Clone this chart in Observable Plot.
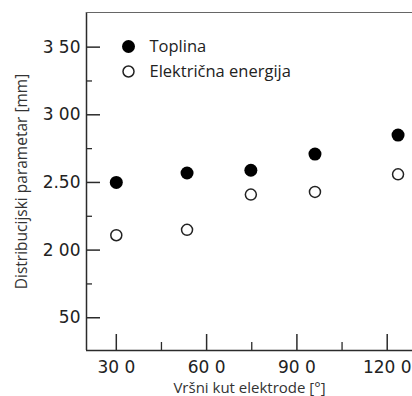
<!DOCTYPE html>
<html>
<head>
<meta charset="utf-8">
<script src="https://cdn.jsdelivr.net/npm/d3@7"></script>
<script src="https://cdn.jsdelivr.net/npm/@observablehq/plot@0.6"></script>
<style>
  html, body { margin: 0; padding: 0; background: #fff; }
  #chart svg { display: block; }
</style>
</head>
<body>
<div id="chart"></div>
<script>
// Data
const angles = [30, 53.5, 74.7, 96, 123.6];
const toplina = [2.50, 2.57, 2.59, 2.71, 2.85];
const elektricna = [2.11, 2.15, 2.41, 2.43, 2.56];
const seriesNames = ["Toplina", "Električna energija"];

// Axes
const xDomain = [20.1, 128.4];
const yDomain = [1.258, 3.756];
const xMajorTicks = [30, 60, 90, 120];
const xMajorLabels = ["30 0", "60 0", "90 0", "120 0"];
const xMinorTicks = [45, 75, 105];
const yMajorTicks = [1.5, 2.0, 2.5, 3.0, 3.5];
const yMajorLabels = ["50", "2 00", "2.50", "3 00", "3 50"];
const yMinorTicks = [1.75, 2.25, 2.75, 3.25];

const toplinaRows = angles.map((a, i) => ({angle: a, value: toplina[i]}));
const elektricnaRows = angles.map((a, i) => ({angle: a, value: elektricna[i]}));

const W = 412, H = 396;
const mL = 86, mR = 0, mT = 12, mB = 46;
const plotW = W - mL - mR, plotH = H - mT - mB;
const ink = "#2b2b2b";
const tickFont = "'DejaVu Sans', sans-serif";
const textFont = "'Open Sans', sans-serif";

function legendEntry(i, dy) {
  const filled = i === 0;
  return [
    Plot.dot([seriesNames[i]], {
      frameAnchor: "top-left", dx: 42, dy,
      r: filled ? 6.5 : 5.5,
      fill: filled ? "#000" : "#fff",
      stroke: filled ? "none" : "#222",
      strokeWidth: 1.5
    }),
    Plot.text([seriesNames[i]], {
      frameAnchor: "top-left", dx: 63, dy,
      text: d => d, textAnchor: "start", lineAnchor: "middle",
      fontSize: 16.5, fontFamily: textFont, fill: "#222"
    })
  ];
}

const chart = Plot.plot({
  width: W,
  height: H,
  marginLeft: mL,
  marginRight: mR,
  marginTop: mT,
  marginBottom: mB,
  style: {fontFamily: textFont, background: "#fff", overflow: "visible"},
  x: {domain: xDomain},
  y: {domain: yDomain},
  marks: [
    // frame lines
    Plot.ruleX([xDomain[0]], {stroke: ink, strokeWidth: 1.5}),
    Plot.ruleY([yDomain[0]], {stroke: ink, strokeWidth: 1.5}),
    Plot.ruleY([yDomain[1]], {stroke: "#666", strokeWidth: 1.2}),
    // inward ticks
    Plot.tickY(yMajorTicks, {y: d => d, stroke: ink, strokeWidth: 1.5, insetRight: plotW - 14}),
    Plot.tickY(yMinorTicks, {y: d => d, stroke: ink, strokeWidth: 1.3, insetRight: plotW - 6}),
    Plot.tickX(xMajorTicks, {x: d => d, stroke: ink, strokeWidth: 1.5, insetTop: plotH - 16}),
    Plot.tickX(xMinorTicks, {x: d => d, stroke: ink, strokeWidth: 1.3, insetTop: plotH - 8}),
    // axes (labels only)
    Plot.axisY({
      ticks: yMajorTicks,
      tickSize: 0,
      tickPadding: 6,
      tickFormat: d => yMajorLabels[yMajorTicks.indexOf(d)],
      fontSize: 17,
      fontFamily: tickFont,
      fill: "#222",
      style: {letterSpacing: "2px"},
      label: null
    }),
    Plot.axisY({
      ticks: [],
      tickSize: 0,
      label: "Distribucijski parametar [mm]",
      labelAnchor: "center",
      labelArrow: "none",
      labelOffset: 71,
      fontSize: 15.5,
      fontFamily: textFont,
      fill: "#333"
    }),
    Plot.axisX({
      ticks: xMajorTicks,
      tickSize: 0,
      tickPadding: 10,
      tickFormat: d => xMajorLabels[xMajorTicks.indexOf(d)],
      fontSize: 17,
      fontFamily: tickFont,
      fill: "#222",
      style: {letterSpacing: "0.5px"},
      label: null
    }),
    Plot.axisX({
      ticks: [],
      tickSize: 0,
      label: "Vršni kut elektrode [°]",
      labelAnchor: "center",
      labelArrow: "none",
      labelOffset: 42,
      fontSize: 15,
      fontFamily: textFont,
      fill: "#333"
    }),
    // data
    Plot.dot(toplinaRows, {
      x: "angle", y: "value", r: 6.5, fill: "#000", stroke: "none"
    }),
    Plot.dot(elektricnaRows, {
      x: "angle", y: "value", r: 5.5, fill: "#fff", stroke: "#222", strokeWidth: 1.5
    }),
    // legend inside plot
    ...legendEntry(0, 34),
    ...legendEntry(1, 59)
  ]
});
document.getElementById("chart").appendChild(chart);
</script>
</body>
</html>
